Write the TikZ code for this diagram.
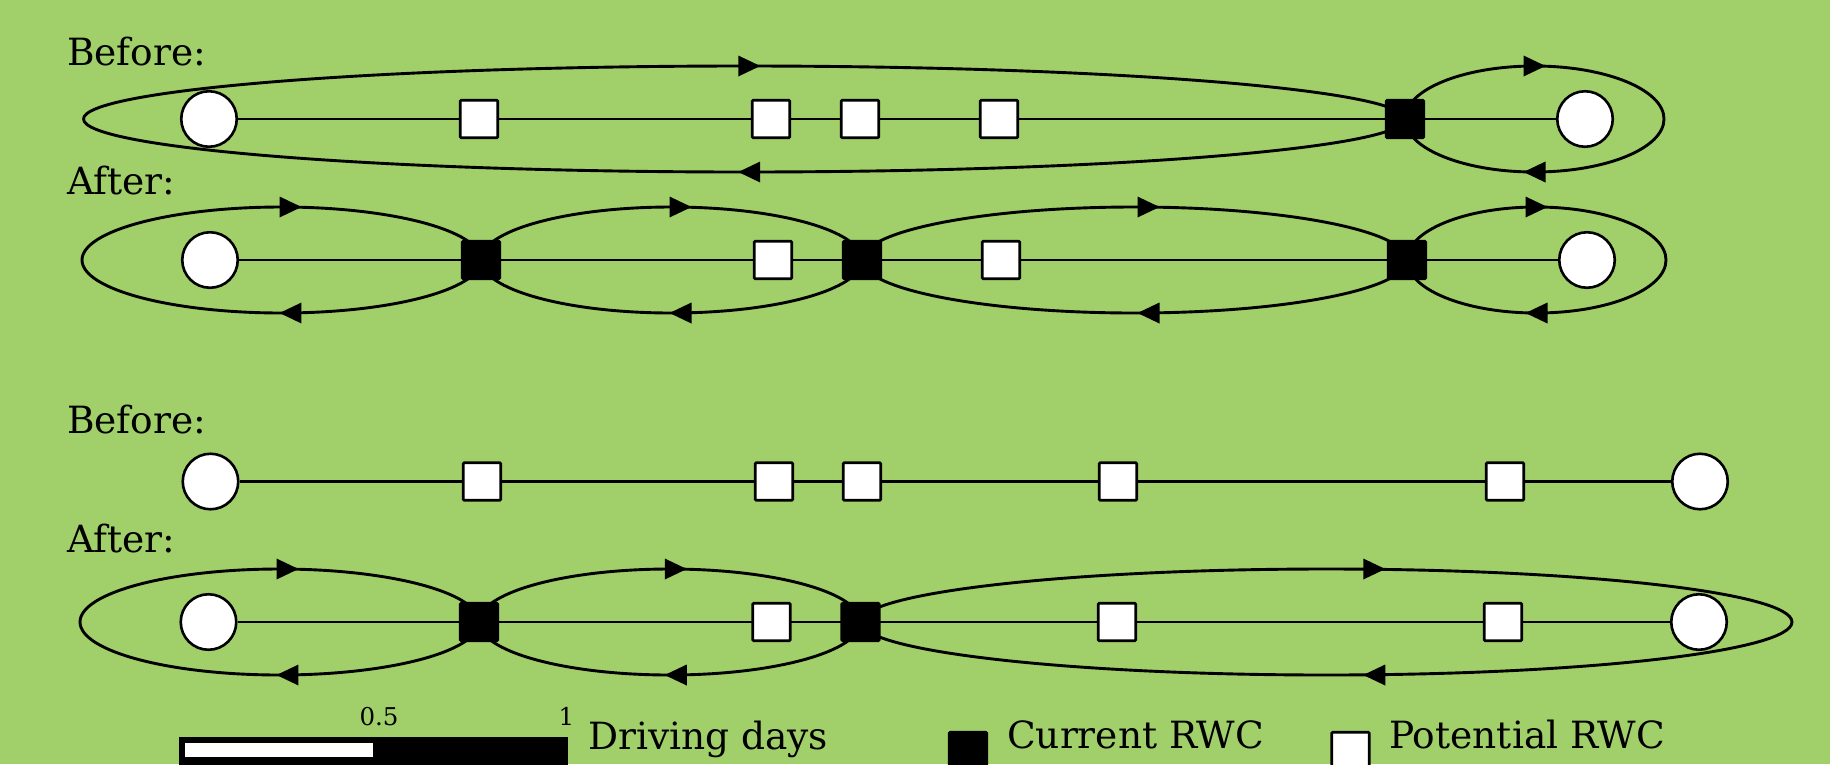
\documentclass[tikz,border=0pt]{standalone}
\usepackage{fontspec}
\setmainfont{DejaVu Serif}
\usetikzlibrary{decorations.markings,calc}
\pgfdeclarelayer{background}
\pgfsetlayers{background,main}
\definecolor{bg}{RGB}{161,207,106}
\tikzset{
  endpt/.style={circle, draw=black, fill=white, line width=2.6pt, minimum size=55.5pt, inner sep=0pt},
  potrwc/.style={rectangle, draw=black, fill=white, line width=2.6pt, minimum size=37.5pt, inner sep=0pt, rounded corners=1pt},
  currwc/.style={rectangle, draw=black, fill=black, line width=2.6pt, minimum size=37.5pt, inner sep=0pt, rounded corners=1pt},
  road/.style={draw=black, line width=2.5pt},
  tour/.style={draw=black, line width=2.9pt},
  lbl/.style={font=\fontsize{37.5}{45}\selectfont, anchor=base west, inner sep=0pt},
  tick/.style={font=\fontsize{24.5}{29}\selectfont, anchor=base, inner sep=0pt}
}
\newcommand\tourloop[3]{%
  \draw[tour, postaction={decorate}, decoration={markings,
     mark=at position 0.25 with {\fill (#3pt-11pt,-10.5pt) -- (#3pt+11pt,0pt) -- (#3pt-11pt,10.5pt) -- cycle;},
     mark=at position 0.75 with {\fill (-#3pt-11pt,-10.5pt) -- (-#3pt+11pt,0pt) -- (-#3pt-11pt,10.5pt) -- cycle;}}]
   let \p1=(#1), \p2=(#2), \n1={(\x2-\x1)/2} in
   (\p1) arc[start angle=180, end angle=0, x radius=\n1, y radius=53pt]
         arc[start angle=0, end angle=-180, x radius=\n1, y radius=53pt];
}
\begin{document}
\begin{tikzpicture}[x=1pt,y=1pt]
\useasboundingbox (0,0) rectangle (1830,-764);
\clip (0,0) rectangle (1830,-764);

% Row 1 (Before)
\node[endpt] (c11) at (209,-119) {};
\node[potrwc] (p11) at (479,-119) {};
\node[potrwc] (p12) at (771,-119) {};
\node[potrwc] (p13) at (860,-119) {};
\node[potrwc] (p14) at (999,-119) {};
\node[currwc] (b11) at (1405,-119) {};
\node[endpt] (c12) at (1585,-119) {};
\coordinate (e11) at (83.5,-119);
\coordinate (e12) at (1664,-119);

% Row 2 (After)
\node[endpt] (c21) at (210,-260) {};
\node[currwc] (b21) at (481,-260) {};
\node[potrwc] (p21) at (773,-260) {};
\node[currwc] (b22) at (862,-260) {};
\node[potrwc] (p22) at (1001,-260) {};
\node[currwc] (b23) at (1407,-260) {};
\node[endpt] (c22) at (1587,-260) {};
\coordinate (e21) at (82,-260);
\coordinate (e22) at (1666,-260);

% Row 3 (Before)
\node[endpt] (c31) at (210.5,-481.5) {};
\node[potrwc] (p31) at (482,-481.5) {};
\node[potrwc] (p32) at (774,-481.5) {};
\node[potrwc] (p33) at (862,-481.5) {};
\node[potrwc] (p34) at (1118,-481.5) {};
\node[potrwc] (p35) at (1505,-481.5) {};
\node[endpt] (c32) at (1700,-481.5) {};

% Row 4 (After)
\node[endpt] (c41) at (208.5,-622) {};
\node[currwc] (b41) at (479,-622) {};
\node[potrwc] (p41) at (771.5,-622) {};
\node[currwc] (b42) at (860.5,-622) {};
\node[potrwc] (p42) at (1117,-622) {};
\node[potrwc] (p43) at (1503,-622) {};
\node[endpt] (c42) at (1699,-622) {};
\coordinate (e41) at (80,-622);
\coordinate (e42) at (1792,-622);

% Labels
\node[lbl] (l1) at (67,-65) {Before:};
\node[lbl] (l2) at (67,-194) {After:};
\node[lbl] (l3) at (67,-433) {Before:};
\node[lbl] (l4) at (67,-552) {After:};

% Scale bar
\fill[black] (179,-737) rectangle (568,-770);
\fill[white] (185,-743) rectangle (373,-757);
\node[tick] (t05) at (379,-725) {0.5};
\node[tick] (t1) at (566.5,-725) {1};
\node[lbl] (dd) at (588,-749) {Driving days};

% Legend
\node[currwc] (lg1) at (968,-751) {};
\node[lbl] (lgt1) at (1007,-748) {Current RWC};
\node[potrwc] (lg2) at (1350.5,-751) {};
\node[lbl] (lgt2) at (1389,-748) {Potential RWC};

\begin{pgfonlayer}{background}
\fill[bg] (0,0) rectangle (1830,-764);
\draw[road] (c11) -- (c12);
\draw[road] (c21) -- (c22);
\draw[road] (c31) -- (c32);
\draw[road] (c41) -- (c42);
\tourloop{e11}{b11}{5}
\tourloop{b11}{e12}{0}
\tourloop{e21}{b21}{9}
\tourloop{b21}{b22}{9}
\tourloop{b22}{b23}{14}
\tourloop{b23}{e22}{0}
\tourloop{e41}{b41}{8}
\tourloop{b41}{b42}{6}
\tourloop{b42}{e42}{48}
\end{pgfonlayer}
\end{tikzpicture}
\end{document}
